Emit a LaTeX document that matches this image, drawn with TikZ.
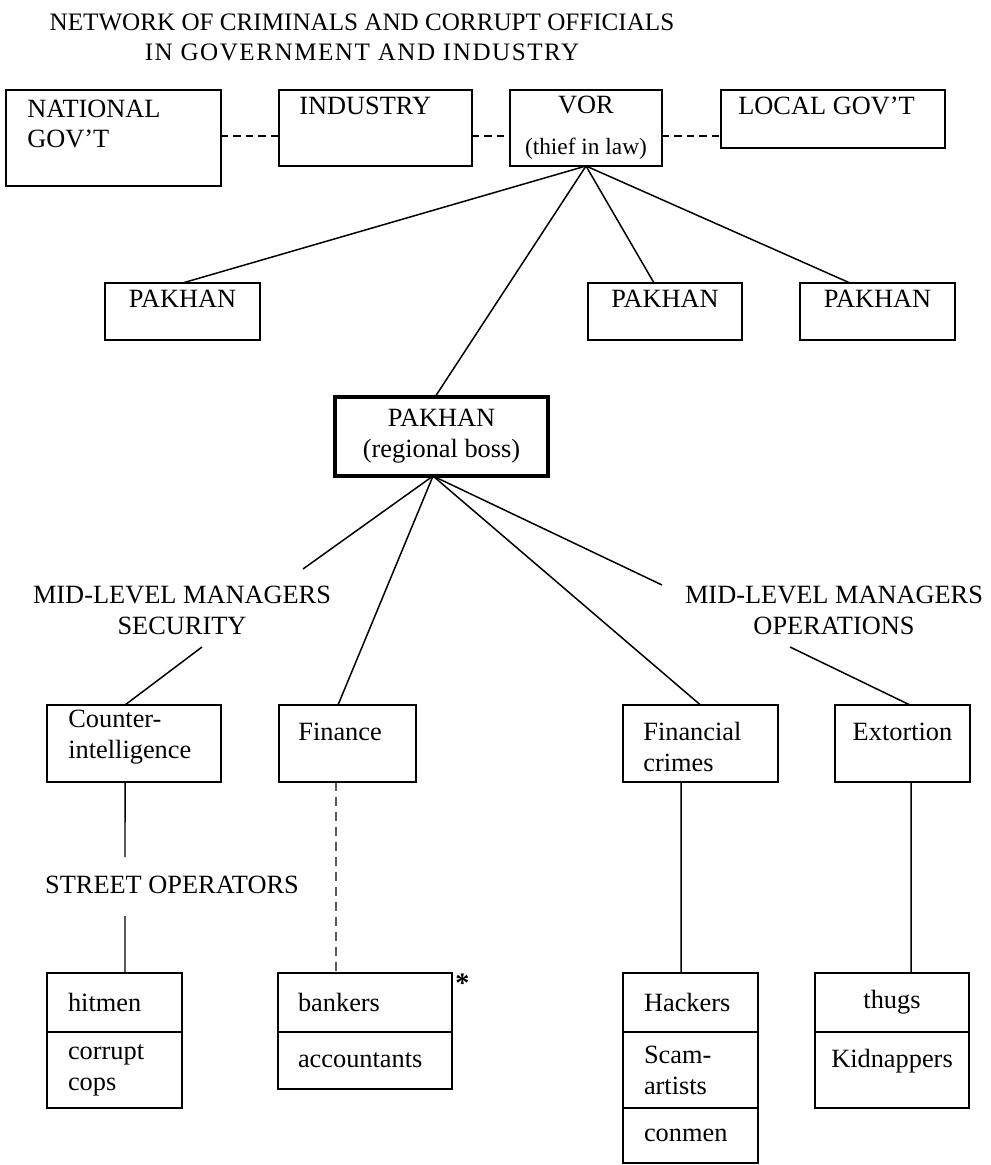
\documentclass[tikz,border=0pt]{standalone}
\usepackage{fontspec}
\setmainfont{Liberation Serif}
\usetikzlibrary{positioning,calc}
\tikzstyle{box} = [rectangle, draw=black, line width=1.1pt, inner sep=0pt, outer sep=0pt, align=center, font=\fontsize{15}{17.6}\selectfont]
\tikzstyle{bossbox} = [box, line width=1.9pt]
\tikzstyle{cell} = [box, align=left, inner xsep=0.42cm, minimum height=1.18cm]
\tikzstyle{txt} = [inner sep=0pt, align=left, font=\fontsize{15}{17.6}\selectfont]
\tikzstyle{ctxt} = [inner sep=0pt, align=center, font=\fontsize{15}{17.6}\selectfont]
\tikzstyle{link} = [line width=0.85pt]
\tikzstyle{dashlink} = [line width=1.1pt, dash pattern=on 0.15cm off 0.1cm]
\tikzstyle{thindash} = [line width=0.6pt, dash pattern=on 0.18cm off 0.12cm]

\begin{document}
\begin{tikzpicture}[x=0.02cm,y=-0.02cm]
	\useasboundingbox (0,0) rectangle (990,1165);
	\node (title) [ctxt, font=\fontsize{14.3}{17.1}\selectfont] at (362,37) {NETWORK OF CRIMINALS AND CORRUPT OFFICIALS\\{\addfontfeatures{LetterSpace=6}IN GOVERNMENT AND INDUSTRY}};
	
	%top row
	\node (nat) [box, minimum width=4.30cm, minimum height=1.92cm] at (113.5,138) {};
	\node (ind) [box, minimum width=3.86cm, minimum height=1.52cm] at (375.5,128) {};
	\node (vor) [box, minimum width=3.04cm, minimum height=1.52cm] at (586,128) {VOR\\[0.2cm]{\fontsize{13.3}{16}\selectfont (thief in law)}};
	\node (loc) [box, minimum width=4.48cm, minimum height=1.16cm] at (833,119) {};
	\node (natL) [txt, anchor=west] at (27,124) {NATIONAL\\GOV'T};
	\node (indL) [txt, anchor=west] at (299,106) {INDUSTRY};
	\node (locL) [txt, anchor=west] at (738,106) {LOCAL GOV'T};
	
	%pakhans
	\node (pk1) [box, minimum width=3.10cm, minimum height=1.14cm] at (182.5,311.5) {};
	\node (pk2) [box, minimum width=3.08cm, minimum height=1.14cm] at (665,311.5) {};
	\node (pk3) [box, minimum width=3.10cm, minimum height=1.14cm] at (877.5,311.5) {};
	\node (pk1L) [ctxt] at (182.5,299) {PAKHAN};
	\node (pk2L) [ctxt] at (665,299) {PAKHAN};
	\node (pk3L) [ctxt] at (877.5,299) {PAKHAN};
	\node (reg) [bossbox, minimum width=4.26cm, minimum height=1.58cm] at (441.5,436.5) {PAKHAN\\(regional boss)};
	
	%mid level
	\node (secL) [ctxt] at (182,610) {MID-LEVEL MANAGERS\\SECURITY};
	\node (opL) [ctxt] at (834,610) {MID-LEVEL MANAGERS\\OPERATIONS};
	\node (cnt) [box, minimum width=3.48cm, minimum height=1.54cm] at (134,743.5) {};
	\node (fin) [box, minimum width=2.74cm, minimum height=1.54cm] at (347.5,743.5) {};
	\node (fcr) [box, minimum width=3.10cm, minimum height=1.54cm] at (700.5,743.5) {};
	\node (ext) [box, minimum width=2.70cm, minimum height=1.54cm] at (902.5,743.5) {};
	\node (cntL) [txt, anchor=west] at (68,737) {Counter-\\intelligence};
	\node (finL) [txt, anchor=west] at (298,732) {Finance};
	\node (fcrL) [txt, anchor=west] at (643,747) {Financial\\crimes};
	\node (extL) [ctxt] at (902.5,732) {Extortion};
	\node (street) [ctxt] at (172,885) {STREET OPERATORS};
	
	%street level
	\node (hitA) [cell, text width=1.86cm, anchor=north] at (114.5,973) {hitmen};
	\node (hitB) [cell, text width=1.86cm, minimum height=1.52cm, below=0pt of hitA] {corrupt\\cops};
	\node (bnkA) [cell, text width=2.68cm, inner xsep=0.40cm, anchor=north] at (365,973) {bankers};
	\node (bnkB) [cell, text width=2.68cm, inner xsep=0.40cm, minimum height=1.14cm, below=0pt of bnkA] {accountants};
	\node (ast) [anchor=north west, inner sep=0pt, font=\fontsize{16}{18}\selectfont\bfseries] at ([xshift=0.06cm,yshift=-0.02cm]bnkA.north east) {*};
	\node (hckA) [cell, text width=1.86cm, anchor=north] at (690.5,973) {Hackers};
	\node (hckB) [cell, text width=1.86cm, minimum height=1.52cm, below=0pt of hckA] {Scam-\\artists};
	\node (hckC) [cell, text width=1.86cm, minimum height=1.10cm, below=0pt of hckB] {conmen};
	\node (thgA) [cell, align=center, text width=2.88cm, inner xsep=0.1cm, anchor=north] at (892,973) {thugs};
	\node (thgB) [cell, align=center, text width=2.88cm, inner xsep=0.1cm, minimum height=1.52cm, text depth=0.48cm, below=0pt of thgA] {Kidnappers};
	
	\coordinate (dashY) at (0,136);
	\coordinate (regB) at ([xshift=-0.17cm]reg.south);
	\coordinate (secTop) at (303,569);
	\coordinate (secBot) at (202,647);
	\coordinate (opTop) at (662,585);
	\coordinate (opBot) at (790,647);
	\coordinate (stTop) at (125,857);
	\coordinate (stBot) at (125,916);
	
	\draw [dashlink](nat.east |- dashY) -- (ind.west |- dashY);
	\draw [dashlink](ind.east |- dashY) -- (vor.west |- dashY);
	\draw [dashlink](vor.east |- dashY) -- (loc.west |- dashY);
	\draw [link](vor.south) -- (pk1.north);
	\draw [link](vor.south) -- ([xshift=-0.22cm]pk2.north);
	\draw [link](vor.south) -- ([xshift=-0.55cm]pk3.north);
	\draw [link](vor.south) -- ([xshift=-0.13cm]reg.north);
	\draw [link](regB) -- (secTop);
	\draw [link](regB) -- ([xshift=-0.19cm]fin.north);
	\draw [link](regB) -- (fcr.north);
	\draw [link](regB) -- (opTop);
	\draw [link](secBot) -- ([xshift=-0.18cm]cnt.north);
	\draw [link](opBot) -- ([xshift=0.15cm]ext.north);
	\draw [link]([xshift=-0.18cm]cnt.south) -- (stTop);
	\draw [link](stBot) -- ([xshift=0.21cm]hitA.north);
	\draw [thindash]([xshift=-0.23cm]fin.south) -- ([xshift=-0.58cm]bnkA.north);
	\draw [link]([xshift=-0.39cm]fcr.south) -- ([xshift=-0.19cm]hckA.north);
	\draw [link]([xshift=0.17cm]ext.south) -- ([xshift=0.38cm]thgA.north);
\end{tikzpicture}
\end{document}
